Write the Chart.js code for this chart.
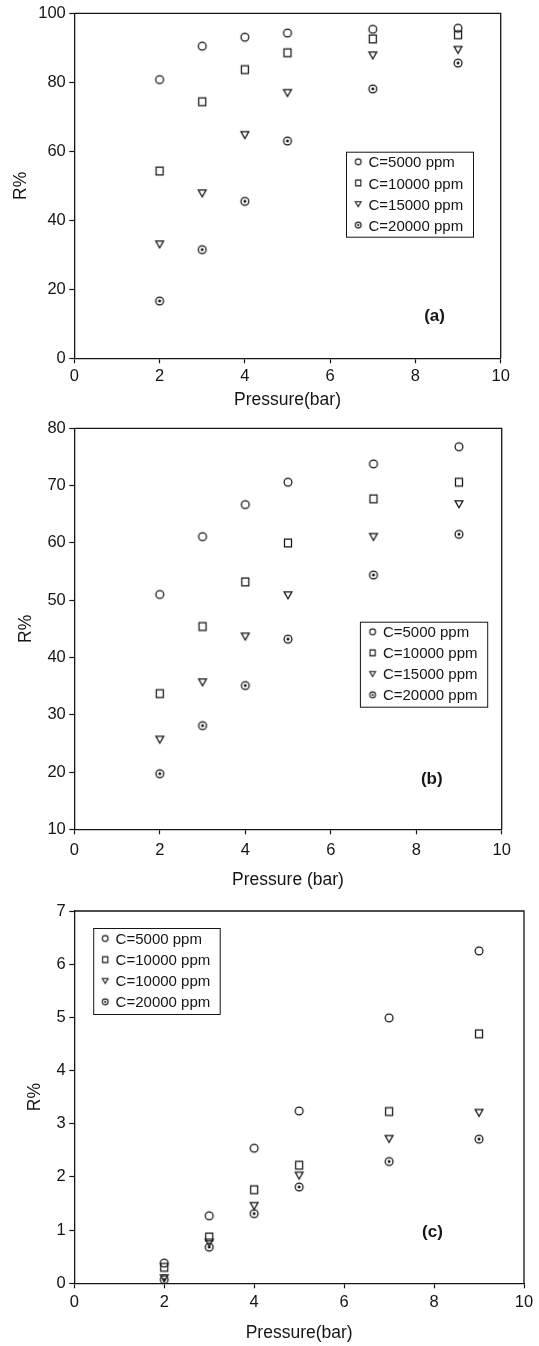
<!DOCTYPE html>
<html>
<head>
<meta charset="utf-8">
<script src="https://cdn.jsdelivr.net/npm/chart.js@4/dist/chart.umd.min.js"></script>
<style>
  html, body { margin: 0; padding: 0; background: #fff; }
  #wrap { position: relative; width: 539px; height: 1346px; overflow: hidden; background: #fff; }
  #wrap canvas { position: absolute; left: 0; }
</style>
</head>
<body>
<div id="wrap">
  <canvas id="chartA" width="539" height="415" style="top:0px"></canvas>
  <canvas id="chartB" width="539" height="480" style="top:415px"></canvas>
  <canvas id="chartC" width="539" height="451" style="top:895px"></canvas>
</div>
<script>
// Operating pressure (bar), shared by all three panels
const pressure = [2, 3, 4, 5, 7, 9];

// Panel (a): rejection R% vs pressure
const labelsA = ['C=5000 ppm', 'C=10000 ppm', 'C=15000 ppm', 'C=20000 ppm'];
const a5000  = [80.8, 90.5, 93.1, 94.3, 95.4, 95.7];
const a10000 = [54.3, 74.4, 83.7, 88.6, 92.6, 93.8];
const a15000 = [33.1, 47.9, 64.8, 77.0, 87.9, 89.5];
const a20000 = [16.6, 31.5, 45.5, 63.0, 78.1, 85.6];

// Panel (b)
const labelsB = ['C=5000 ppm', 'C=10000 ppm', 'C=15000 ppm', 'C=20000 ppm'];
const b5000  = [51.0, 61.1, 66.7, 70.6, 73.8, 76.8];
const b10000 = [33.7, 45.4, 53.2, 60.0, 67.7, 70.6];
const b15000 = [25.7, 35.7, 43.7, 50.9, 61.1, 66.8];
const b20000 = [19.7, 28.1, 35.1, 43.2, 54.4, 61.5];

// Panel (c)
const labelsC = ['C=5000 ppm', 'C=10000 ppm', 'C=10000 ppm', 'C=20000 ppm'];
const c5000  = [0.38, 1.27, 2.54, 3.24, 4.99, 6.25];
const c10000 = [0.30, 0.87, 1.76, 2.22, 3.23, 4.69];
const c10000b = [0.10, 0.77, 1.46, 2.03, 2.72, 3.21];
const c20000 = [0.07, 0.68, 1.31, 1.81, 2.29, 2.71];

// Axis tick settings
const xTicks = { min: 0, max: 10, step: 2 };
const yTicksA = { min: 0, max: 100, step: 20 };
const yTicksB = { min: 10, max: 80, step: 10 };
const yTicksC = { min: 0, max: 7, step: 1 };

const INK = '#151515';
const FONT = '"Liberation Sans", Arial, Helvetica, sans-serif';
Chart.defaults.font.family = FONT;
Chart.defaults.color = INK;

// Hollow marker glyphs drawn once on small canvases and used as point styles
function marker(kind, r, lw) {
  const size = Math.ceil(r * 2 + 4);
  const c = document.createElement('canvas');
  c.width = size; c.height = size;
  const g = c.getContext('2d');
  const m = size / 2;
  g.strokeStyle = INK; g.fillStyle = INK; g.lineWidth = lw;
  g.beginPath();
  if (kind === 'circle' || kind === 'dot') {
    g.arc(m, m, r, 0, Math.PI * 2);
  } else if (kind === 'square') {
    g.rect(m - r * 0.9, m - r, r * 1.8, r * 2);
  } else if (kind === 'down') {
    g.moveTo(m - r, m - r * 0.8);
    g.lineTo(m + r, m - r * 0.8);
    g.lineTo(m, m + r * 0.95);
    g.closePath();
  }
  g.stroke();
  if (kind === 'dot') {
    g.beginPath();
    g.arc(m, m, Math.max(1.1, r * 0.38), 0, Math.PI * 2);
    g.fill();
  }
  return c;
}
const kinds = ['circle', 'square', 'down', 'dot'];
const plotMarks = kinds.map(k => marker(k, 3.9, 1.25));
const keyMarks = kinds.map(k => marker(k, 2.9, 1.1));

function series(labels, lists) {
  return lists.map((vals, i) => ({
    label: labels[i],
    data: pressure.map((p, j) => ({ x: p, y: vals[j] })),
    pointStyle: plotMarks[i],
    keyStyle: keyMarks[i],
    pointRadius: 4,
    pointHoverRadius: 4,
    showLine: false
  }));
}

// Closes the plot box with top and right edges
const frame = {
  id: 'frame',
  beforeDatasetsDraw(chart) {
    const { ctx, chartArea: a } = chart;
    ctx.save();
    ctx.strokeStyle = INK;
    ctx.lineWidth = 1.3;
    ctx.beginPath();
    ctx.moveTo(a.left, a.top);
    ctx.lineTo(a.right, a.top);
    ctx.lineTo(a.right, a.bottom);
    ctx.stroke();
    ctx.restore();
  }
};

// Boxed legend placed inside the plot
const boxLegend = {
  id: 'boxLegend',
  afterDatasetsDraw(chart, args, o) {
    const { ctx } = chart;
    ctx.save();
    ctx.fillStyle = '#fff';
    ctx.fillRect(o.left, o.top, o.width, o.height);
    ctx.strokeStyle = INK;
    ctx.lineWidth = 1;
    ctx.strokeRect(o.left + 0.5, o.top + 0.5, o.width, o.height);
    ctx.font = o.size + 'px ' + FONT;
    ctx.fillStyle = INK;
    ctx.textBaseline = 'middle';
    ctx.textAlign = 'left';
    chart.data.datasets.forEach((ds, i) => {
      const y = o.firstRow + i * o.rowGap;
      const m = ds.keyStyle;
      ctx.drawImage(m, o.left + o.markX - m.width / 2, y - 1.5 - m.height / 2);
      ctx.fillText(ds.label, o.left + o.textX, y);
    });
    ctx.restore();
  }
};

// Panel letter
const panelTag = {
  id: 'panelTag',
  afterDatasetsDraw(chart, args, o) {
    const { ctx } = chart;
    ctx.save();
    ctx.font = 'bold 17px ' + FONT;
    ctx.fillStyle = INK;
    ctx.textAlign = 'center';
    ctx.textBaseline = 'middle';
    ctx.fillText(o.text, o.x, o.y);
    ctx.restore();
  }
};

function axis(t, title, fixed, titlePad, tickPad) {
  return {
    type: 'linear',
    min: t.min, max: t.max,
    ticks: { stepSize: t.step, font: { size: 16.5 }, color: INK, padding: tickPad },
    grid: { drawOnChartArea: false, drawTicks: true, tickLength: 5, color: INK, tickWidth: 1.2 },
    border: { display: true, color: INK, width: 1.3 },
    title: { display: true, text: title, font: { size: 17.5, lineHeight: 1.2 }, color: INK, padding: titlePad },
    afterFit: fixed
  };
}

function build(id, cfg) {
  return new Chart(document.getElementById(id), {
    type: 'scatter',
    data: { datasets: series(cfg.labels, cfg.lists) },
    options: {
      responsive: false,
      animation: false,
      events: [],
      layout: { padding: cfg.pad },
      plugins: {
        legend: { display: false },
        tooltip: { enabled: false },
        boxLegend: cfg.legend,
        panelTag: cfg.tag
      },
      scales: {
        x: axis(xTicks, cfg.xTitle, s => { s.height = cfg.xH; }, { top: 0, bottom: 0 }, cfg.xPad),
        y: axis(cfg.yTicks, 'R%', s => { s.width = 74.3; }, { top: cfg.yTitlePad, bottom: 0 }, 3.5)
      }
    },
    plugins: [frame, boxLegend, panelTag]
  });
}

build('chartA', {
  labels: labelsA, lists: [a5000, a10000, a15000, a20000],
  yTicks: yTicksA, xTitle: 'Pressure(bar)',
  pad: { left: 0, top: 13.3, right: 38.3, bottom: 4.8 },
  xH: 51.9, xPad: 3.6, yTitlePad: 10.2,
  legend: { left: 346, top: 151.7, width: 127, height: 85, firstRow: 163.3, rowGap: 21.1, markX: 12.2, textX: 22.5, size: 15 },
  tag: { text: '(a)', x: 434.6, y: 316.7 }
});

build('chartB', {
  labels: labelsB, lists: [b5000, b10000, b15000, b20000],
  yTicks: yTicksB, xTitle: 'Pressure (bar)',
  pad: { left: 0, top: 8.3, right: 37.3, bottom: 4.1 },
  xH: 61.6, xPad: 6.6, yTitlePad: 15.7,
  legend: { left: 359.9, top: 206.7, width: 127.3, height: 85, firstRow: 218.3, rowGap: 21, markX: 12.7, textX: 23, size: 15 },
  tag: { text: '(b)', x: 431.8, y: 364.3 }
});

build('chartC', {
  labels: labelsC, lists: [c5000, c10000, c10000b, c20000],
  yTicks: yTicksC, xTitle: 'Pressure(bar)',
  pad: { left: 0, top: 16, right: 15, bottom: 2.8 },
  xH: 59.9, xPad: 4.2, yTitlePad: 24.4,
  legend: { left: 93.2, top: 33, width: 126.5, height: 86, firstRow: 45, rowGap: 21.1, markX: 12, textX: 22.4, size: 15 },
  tag: { text: '(c)', x: 432.5, y: 337 }
});
</script>
</body>
</html>
